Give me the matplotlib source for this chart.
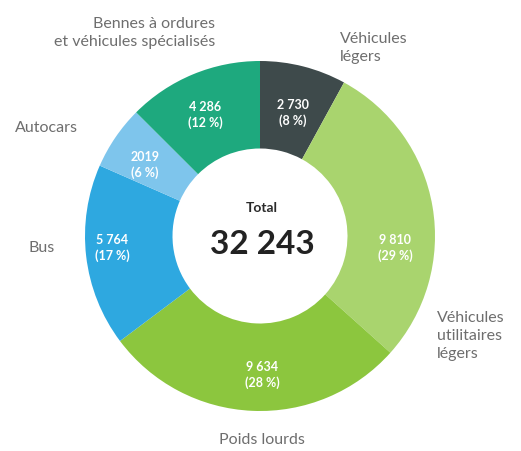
import matplotlib
matplotlib.use("Agg")
import matplotlib.pyplot as plt

categories = ["Véhicules\nlégers", "Véhicules\nutilitaires\nlégers", "Poids lourds",
              "Bus", "Autocars", "Bennes à ordures\net véhicules spécialisés"]
values = [2730, 9810, 9634, 5764, 2019, 4286]
value_labels = ["2 730", "9 810", "9 634", "5 764", "2019", "4 286"]
pct_labels = ["(8 %)", "(29 %)", "(28 %)", "(17 %)", "(6 %)", "(12 %)"]
total_label = "32 243"
colors = ["#3e4a4b", "#a9d46e", "#8cc63e", "#2ea8e0", "#7ec5ec", "#1ea97e"]

W, H = 521, 452
fig = plt.figure(figsize=(W / 100, H / 100), dpi=100)
ax = fig.add_axes([0, 0, 1, 1])

cx, cy, R = 260, H - 237, 175
ax.pie(values, colors=colors, startangle=90, counterclock=False,
       radius=R, center=(cx, cy), frame=True,
       wedgeprops=dict(width=R * 0.5, linewidth=0))
ax.set_xlim(0, W)
ax.set_ylim(0, H)
ax.set_aspect("equal")
ax.axis("off")

fam = ["Lato", "DejaVu Sans"]
gray = "#6e6e6e"
# outer labels (pixel coords, y from top)
outer = [
    (340, 48, "left", "center"),
    (437, 336, "left", "center"),
    (262, 440, "center", "center"),
    (28, 248, "left", "center"),
    (15, 128, "left", "center"),
    (215, 33, "right", "center"),
]
for (x, y, ha, va), lab in zip(outer, categories):
    ax.text(x, H - y, lab, ha=ha, va=va, fontsize=11.5, color=gray,
            family=fam, linespacing=1.35, multialignment=ha)

inner = [(293, 113), (395, 248), (262, 375), (112, 248), (145, 165), (205, 115)]
for (x, y), v, p in zip(inner, value_labels, pct_labels):
    ax.text(x, H - y, v + "\n" + p, ha="center", va="center", fontsize=9,
            color="white", fontweight="bold", family=fam, linespacing=1.3)

ax.text(262, H - 208, "Total", ha="center", va="center", fontsize=10,
        fontweight="bold", color="#2a2a2a", family=fam)
ax.text(262, H - 245, total_label, ha="center", va="center", fontsize=24,
        fontweight="bold", color="#222222", family=fam)

fig.savefig("out.png", dpi=100, facecolor="white")
